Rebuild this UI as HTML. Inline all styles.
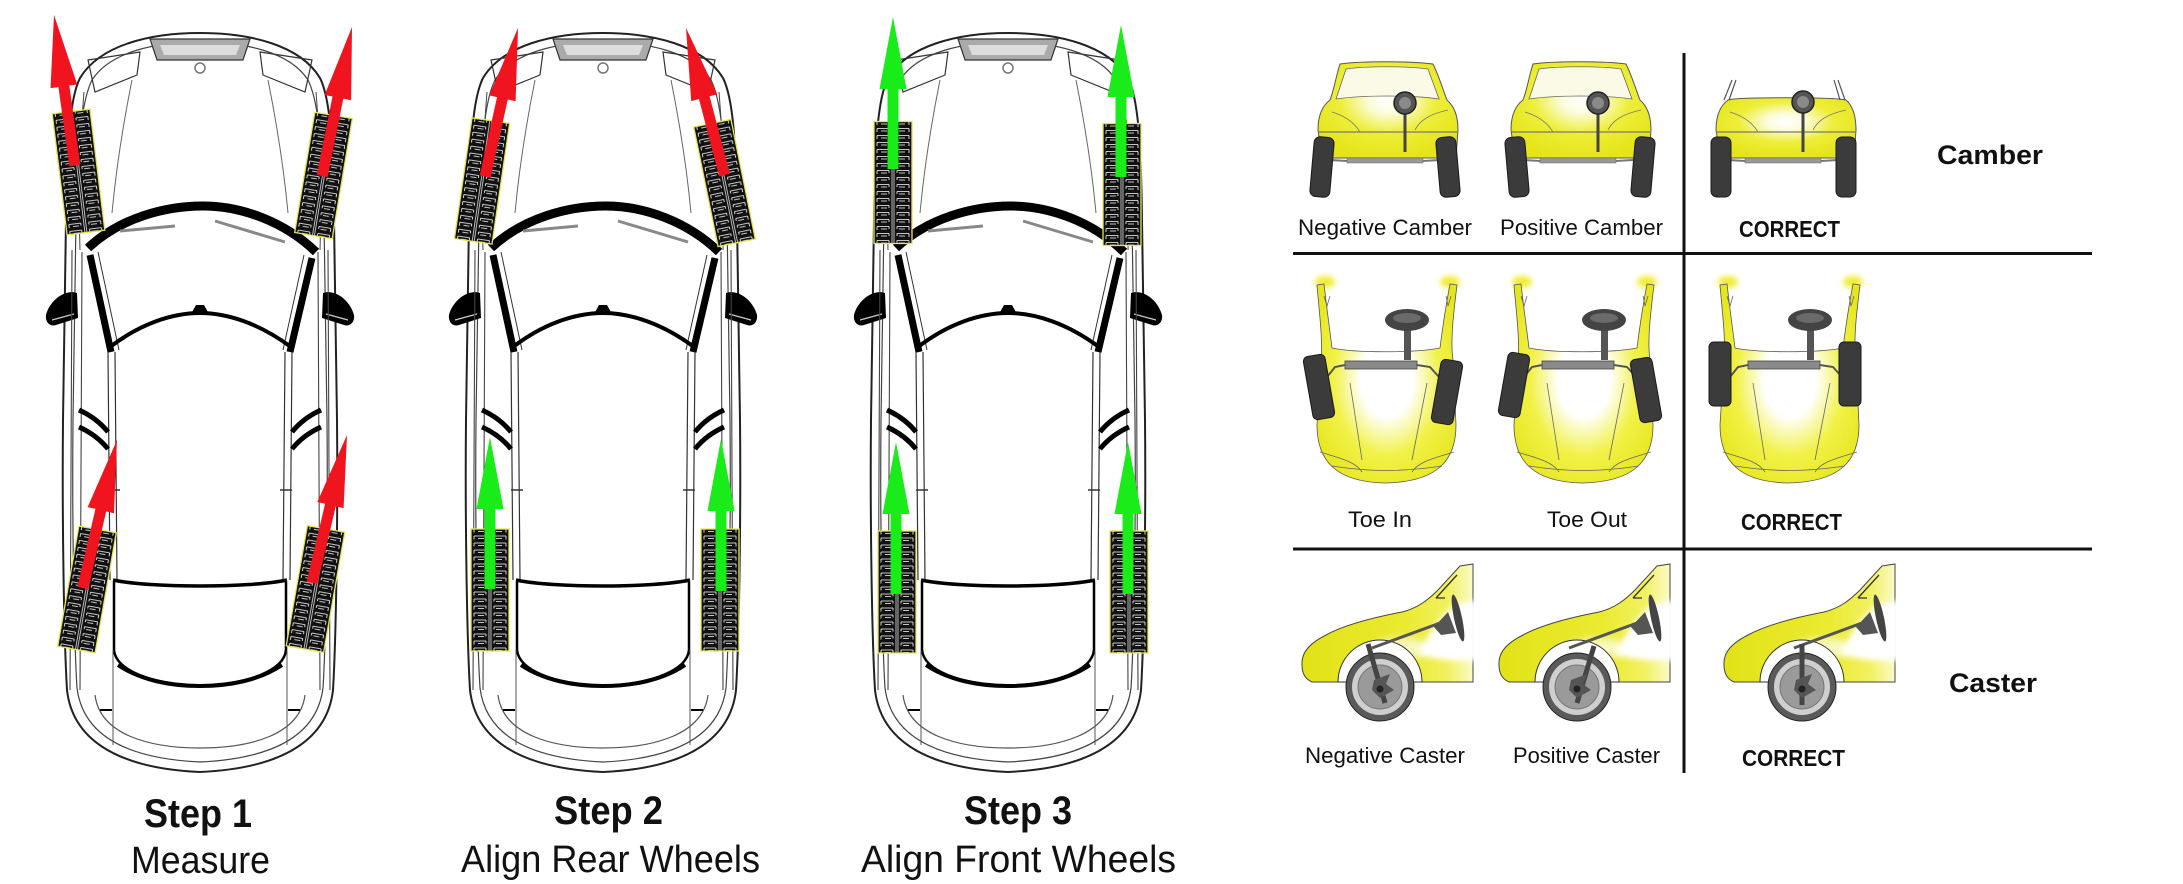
<!DOCTYPE html>
<html><head><meta charset="utf-8"><style>
html,body{margin:0;padding:0;background:#fff;}
svg{display:block;}
text{font-family:"Liberation Sans",Arial,sans-serif;fill:#111;}
</style></head><body>
<svg width="2183" height="884" viewBox="0 0 2183 884" xmlns="http://www.w3.org/2000/svg">
<defs>
<pattern id="tread" patternUnits="userSpaceOnUse" x="-19" y="0" width="38" height="7">
<rect width="38" height="7" fill="#111"/>
<path d="M18,0V7M20,0V7" stroke="#fff" stroke-width="0.7"/>
<path d="M3,2H15M3,2V5.5M15,2V4.5M7,4.5H13" stroke="#fff" stroke-width="0.8" fill="none"/>
<path d="M23,2H35M35,2V5.5M23,2V4.5M25,4.5H31" stroke="#fff" stroke-width="0.8" fill="none"/>
</pattern>
<rect id="tire" x="-19" y="-61" width="38" height="122" fill="url(#tread)" stroke="#e6e650" stroke-width="1.3"/>
<path id="arr" d="M0,0 L13.5,72 L5.5,72 L5.5,152 L-5.5,152 L-5.5,72 L-13.5,72 Z"/>
<radialGradient id="gCam" cx="0.5" cy="0.4" r="0.62">
<stop offset="0" stop-color="#fff"/><stop offset="0.22" stop-color="#fcfcdc"/>
<stop offset="0.55" stop-color="#eeee3a"/><stop offset="1" stop-color="#e4e418"/>
</radialGradient>
<radialGradient id="gToe" cx="0.5" cy="0.48" r="0.62">
<stop offset="0" stop-color="#fff"/><stop offset="0.3" stop-color="#fff"/>
<stop offset="0.62" stop-color="#f1f148"/><stop offset="1" stop-color="#e6e61c"/>
</radialGradient>
<linearGradient id="gCas" x1="0" y1="0" x2="1" y2="0">
<stop offset="0" stop-color="#e2e218"/><stop offset="0.6" stop-color="#eaea30"/>
<stop offset="0.85" stop-color="#f1f160"/><stop offset="1" stop-color="#fafac8"/>
</linearGradient>
<filter id="bl2" x="-50%" y="-50%" width="200%" height="200%"><feGaussianBlur stdDeviation="3"/></filter>
<filter id="bl4" x="-50%" y="-50%" width="200%" height="200%"><feGaussianBlur stdDeviation="4"/></filter>

<g id="car">
<path d="M200,33 C150,33 100,45 80,78 C70,98 67,140 66,220 L63,420 C62,520 64,640 67,690 C72,735 110,768 200,772 C290,768 328,735 333,690 C336,640 338,520 337,420 L334,220 C333,140 330,98 320,78 C300,45 250,33 200,33 Z" fill="#fff" stroke="#222" stroke-width="2"/>
<path d="M200,42 C155,42 110,52 92,80 C82,100 78,140 76,220 L73,420 C72,520 74,640 77,688 C82,728 115,758 200,762 C285,758 318,728 323,688 C326,640 328,520 327,420 L324,220 C322,140 318,100 308,80 C290,52 245,42 200,42 Z" fill="none" stroke="#444" stroke-width="1.2"/>
<path d="M150,39 L250,39 L243,60 L157,60 Z" fill="#aaa" stroke="#333" stroke-width="1.2"/>
<path d="M160,45 L240,45 L236,55 L164,55 Z" fill="#ddd"/>
<path d="M88,60 L140,52 L137,75 L95,92 Z M312,60 L260,52 L263,75 L305,92 Z" fill="none" stroke="#333" stroke-width="1.2"/>
<circle cx="200" cy="68" r="5" fill="none" stroke="#777" stroke-width="1.5"/>
<path d="M132,80 C124,120 116,170 112,213 M268,80 C276,120 284,170 288,213" fill="none" stroke="#666" stroke-width="1"/>
<path d="M84,92 C80,140 78,190 80,250 M316,92 C320,140 322,190 320,250" fill="none" stroke="#444" stroke-width="1"/>
<path d="M88,248 C120,218 165,206 203,206 C242,206 285,222 316,252" fill="none" stroke="#000" stroke-width="9"/>
<path d="M120,231 L175,226 M215,221 L285,242" stroke="#888" stroke-width="3"/>
<path d="M90,255 L111,352 M312,258 L290,352" stroke="#000" stroke-width="7"/>
<path d="M98,252 L119,350 M304,255 L283,350" stroke="#333" stroke-width="1"/>
<path d="M110,347 C140,324 172,313 200,313 C228,313 260,324 291,347" fill="none" stroke="#000" stroke-width="4"/>
<path d="M191,314 L196,305 L204,305 L209,314 Z" fill="#000"/>
<path d="M77,293 C65,289 50,300 46,315 C45,322 50,327 56,325 L78,318 Z" fill="#000"/>
<path d="M323,293 C335,289 350,300 354,315 C355,322 350,327 344,325 L322,318 Z" fill="#000"/>
<path d="M52,320 L74,314 M348,320 L326,314" stroke="#ccc" stroke-width="1.2"/>
<path d="M108,352 L110,580 M115,352 L117,580 M292,352 L290,580 M285,352 L283,580" stroke="#333" stroke-width="1.2"/>
<path d="M72,250 L70,690 M82,252 L80,690 M328,250 L330,690 M318,252 L320,690" stroke="#444" stroke-width="1.1"/>
<path d="M79,410 C90,415 100,422 108,432 M79,427 C90,432 100,439 108,449 M321,410 C310,415 300,422 292,432 M321,427 C310,432 300,439 292,449" fill="none" stroke="#000" stroke-width="5"/>
<path d="M108,490 L120,490 M280,490 L292,490" stroke="#333" stroke-width="1.5"/>
<path d="M113,580 C150,588 250,588 287,580" fill="none" stroke="#000" stroke-width="3.5"/>
<path d="M114,582 L114,650 C116,670 150,684 200,686 C250,684 284,670 286,650 L286,582" fill="none" stroke="#000" stroke-width="2.5"/>
<path d="M118,665 C140,680 170,686 200,686 C230,686 260,680 282,665" fill="none" stroke="#000" stroke-width="4"/>
<path d="M95,695 C100,735 150,748 200,748 C250,748 300,735 305,695" fill="none" stroke="#555" stroke-width="1.2"/>
<path d="M113,650 L113,745 M287,650 L287,745" stroke="#555" stroke-width="1"/>
<path d="M100,710 L112,710 M288,710 L300,710" stroke="#000" stroke-width="2"/>
</g>

<g id="camB">
<path d="M50,14 C70,11 122,11 143,14 C149,26 153,40 157,50 C164,56 168,66 168,80 L166,108 L32,108 L28,80 C28,66 32,56 40,50 C44,40 46,26 50,14 Z" fill="url(#gCam)" stroke="#555" stroke-width="1"/>
<path d="M56,19 C76,16 118,16 138,19 L149,49 C120,45 75,45 46,49 Z" fill="#fafae6" stroke="#666" stroke-width="0.8"/>
<path d="M29,82 L167,82" stroke="#777" stroke-width="1.2"/>
<path d="M42,62 C55,66 64,72 70,82 M158,60 C140,64 130,70 125,80" stroke="#777" stroke-width="0.8" fill="none"/>
<rect x="57" y="108" width="76" height="5" fill="#999" stroke="#666" stroke-width="0.5"/>
<path d="M40,110 L57,111 M133,111 L150,110" stroke="#777" stroke-width="2"/>
<rect x="113.5" y="60" width="3" height="42" fill="#444"/>
<circle cx="115" cy="53" r="11" fill="#555" stroke="#222" stroke-width="1.5"/>
<circle cx="115" cy="53" r="6" fill="#8a8a8a"/>
</g>
<rect id="cw" x="-10" y="-30" width="20" height="60" rx="6" fill="#3b3b3b" stroke="#1a1a1a" stroke-width="1"/>

<g id="toeB">
<ellipse cx="35" cy="22" rx="10" ry="6" fill="#eeee30" filter="url(#bl2)"/>
<ellipse cx="160" cy="22" rx="10" ry="6" fill="#eeee30" filter="url(#bl2)"/>
<path d="M27,25 C29,50 33,80 31,100 L27,165 C27,200 45,222 95,223 C148,222 166,200 166,165 L163,100 C160,80 164,50 167,25 L160,24 C155,50 152,72 150,88 C125,93 65,93 42,88 C40,72 37,50 34,24 Z" fill="url(#gToe)" stroke="#555" stroke-width="0.8"/>
<path d="M34,36 L37,46 L40,36 M156,36 L158,46 L161,36" fill="none" stroke="#666" stroke-width="0.8"/>
<path d="M60,123 L72,200 M137,123 L122,200" stroke="#666" stroke-width="0.8"/>
<path d="M30,192 C50,198 66,202 72,212 M164,192 C144,198 128,202 122,212 M42,206 C80,212 112,212 152,206" fill="none" stroke="#666" stroke-width="0.8"/>
<rect x="114" y="66" width="7" height="34" fill="#555"/>
<ellipse cx="117" cy="60" rx="22" ry="11" fill="#444"/>
<ellipse cx="117" cy="58" rx="14" ry="5" fill="#6a6a6a"/>
<rect x="55" y="101" width="72" height="8" fill="#8a8a8a" stroke="#444" stroke-width="0.8"/>
<path d="M55,105 L45,107 L37,117 M127,105 L140,107 L149,117" fill="none" stroke="#555" stroke-width="2"/>
</g>
<rect id="tw" x="-11" y="-32" width="22" height="64" rx="5" fill="#3b3b3b" stroke="#1a1a1a" stroke-width="1"/>

<g id="casB">
<path d="M12,115 C11,101 22,92 36,85 C56,74 86,67 112,62 C128,58 138,50 148,40 L170,16 L183,14 L183,132 L22,132 C15,129 12,123 12,115 Z" fill="url(#gCas)" stroke="#444" stroke-width="1"/>
<ellipse cx="112" cy="98" rx="28" ry="10" fill="#fff" opacity="0.7" filter="url(#bl4)"/>
<path d="M128,104 C138,86 150,64 168,54 L188,50 L188,110 C170,112 145,110 128,104 Z" fill="#fff" filter="url(#bl2)"/>
<path d="M146,48 L167,25 M146,48 L155,48" stroke="#333" stroke-width="1.3"/>
<path d="M48,132 A42,42 0 0 1 132,132 Z" fill="#fff" stroke="#333" stroke-width="1"/>
<path d="M82,98 L150,73" stroke="#555" stroke-width="3"/>
<path d="M144,77 L158,62 L166,83 L151,85 Z" fill="#555"/>
<ellipse cx="168" cy="68" rx="4" ry="24" transform="rotate(-12 168 68)" fill="#444"/>
<circle cx="90" cy="137" r="34" fill="#5a5a5a" stroke="#222" stroke-width="1"/>
<circle cx="90" cy="137" r="28" fill="#cfcfcf"/>
<circle cx="90" cy="137" r="22" fill="#9a9a9a" stroke="#777" stroke-width="1"/>
</g>
</defs>

<use href="#car"/>
<use href="#car" transform="translate(403,0)"/>
<use href="#car" transform="translate(808,0)"/>

<use href="#tire" transform="translate(78.5,172) rotate(-7)"/>
<use href="#tire" transform="translate(323.5,175.5) rotate(9.5)"/>
<use href="#tire" transform="translate(87,589.5) rotate(10)"/>
<use href="#tire" transform="translate(315.5,589) rotate(10)"/>
<use href="#tire" transform="translate(482,181) rotate(8.3)"/>
<use href="#tire" transform="translate(724.5,183) rotate(-11.5)"/>
<use href="#tire" transform="translate(490,590)"/>
<use href="#tire" transform="translate(720,590)"/>
<use href="#tire" transform="translate(893,182.5)"/>
<use href="#tire" transform="translate(1122,184.5)"/>
<use href="#tire" transform="translate(897,592)"/>
<use href="#tire" transform="translate(1129,592)"/>

<g fill="#f0141e">
<use href="#arr" transform="translate(54,15) rotate(-7.9)"/>
<use href="#arr" transform="translate(352,27) rotate(11.3)"/>
<use href="#arr" transform="translate(117,440) rotate(13)"/>
<use href="#arr" transform="translate(347,435) rotate(13.3)"/>
<use href="#arr" transform="translate(518,28) rotate(12.5)"/>
<use href="#arr" transform="translate(686,28) rotate(-14.7)"/>
</g>
<g fill="#19ec19">
<use href="#arr" transform="translate(490,437)"/>
<use href="#arr" transform="translate(721,439)"/>
<use href="#arr" transform="translate(893,17)"/>
<use href="#arr" transform="translate(1121,25)"/>
<use href="#arr" transform="translate(896,442)"/>
<use href="#arr" transform="translate(1128,442)"/>
</g>

<text x="144" y="827" font-size="40" font-weight="bold" textLength="108" lengthAdjust="spacingAndGlyphs">Step 1</text>
<text x="131" y="873" font-size="38" textLength="139" lengthAdjust="spacingAndGlyphs">Measure</text>
<text x="554" y="824" font-size="40" font-weight="bold" textLength="109" lengthAdjust="spacingAndGlyphs">Step 2</text>
<text x="461" y="872" font-size="38" textLength="299" lengthAdjust="spacingAndGlyphs">Align Rear Wheels</text>
<text x="964" y="824" font-size="40" font-weight="bold" textLength="108" lengthAdjust="spacingAndGlyphs">Step 3</text>
<text x="861" y="872" font-size="38" textLength="315" lengthAdjust="spacingAndGlyphs">Align Front Wheels</text>

<path d="M1684,53 L1684,773" stroke="#111" stroke-width="3"/>
<path d="M1293,253.5 L2092,253.5 M1293,549 L2092,549" stroke="#111" stroke-width="3"/>

<g transform="translate(1290,50)">
<use href="#camB"/>
<use href="#cw" transform="translate(32,117) rotate(5)"/>
<use href="#cw" transform="translate(158,117) rotate(-5)"/>
</g>
<g transform="translate(1483,50)">
<use href="#camB"/>
<use href="#cw" transform="translate(34,117) rotate(-5)"/>
<use href="#cw" transform="translate(160,117) rotate(5)"/>
</g>
<g transform="translate(1688,50)">
<path d="M40,50 C50,47 145,47 158,50 C165,56 168,66 168,80 L166,108 L32,108 L28,80 C28,66 32,56 40,50 Z" fill="url(#gCam)" stroke="#555" stroke-width="1"/>
<path d="M44,30 L36,50 M48,30 L41,50 M150,30 L157,50 M146,30 L152,50" stroke="#555" stroke-width="1.2"/>
<path d="M29,82 L167,82" stroke="#777" stroke-width="1.2"/>
<path d="M42,62 C55,66 64,72 70,82 M158,60 C140,64 130,70 125,80" stroke="#777" stroke-width="0.8" fill="none"/>
<rect x="57" y="108" width="76" height="5" fill="#999" stroke="#666" stroke-width="0.5"/>
<path d="M40,110 L57,111 M133,111 L150,110" stroke="#777" stroke-width="2"/>
<rect x="113.5" y="60" width="3" height="42" fill="#444"/>
<circle cx="115" cy="52" r="11" fill="#555" stroke="#222" stroke-width="1.5"/>
<circle cx="115" cy="52" r="6" fill="#8a8a8a"/>
<use href="#cw" transform="translate(33,117)"/>
<use href="#cw" transform="translate(158,117)"/>
</g>

<text x="1298" y="235" font-size="22" textLength="174" lengthAdjust="spacingAndGlyphs">Negative Camber</text>
<text x="1500" y="235" font-size="22" textLength="163" lengthAdjust="spacingAndGlyphs">Positive Camber</text>
<text x="1739" y="237" font-size="23" font-weight="bold" textLength="101" lengthAdjust="spacingAndGlyphs">CORRECT</text>
<text x="1937" y="164" font-size="27" font-weight="bold" textLength="106" lengthAdjust="spacingAndGlyphs">Camber</text>

<g transform="translate(1290,260)">
<use href="#toeB"/>
<use href="#tw" transform="translate(29,127) rotate(-10)"/>
<use href="#tw" transform="translate(157,132) rotate(10)"/>
</g>
<g transform="translate(1487,260)">
<use href="#toeB"/>
<use href="#tw" transform="translate(27,125) rotate(10)"/>
<use href="#tw" transform="translate(159,130) rotate(-10)"/>
</g>
<g transform="translate(1693,260)">
<use href="#toeB"/>
<use href="#tw" transform="translate(27,114)"/>
<use href="#tw" transform="translate(157,114)"/>
</g>

<text x="1348" y="527" font-size="22" textLength="64" lengthAdjust="spacingAndGlyphs">Toe In</text>
<text x="1547" y="527" font-size="22" textLength="80" lengthAdjust="spacingAndGlyphs">Toe Out</text>
<text x="1741" y="530" font-size="23" font-weight="bold" textLength="101" lengthAdjust="spacingAndGlyphs">CORRECT</text>

<g transform="translate(1290,550)">
<use href="#casB"/>
<path d="M78,94 L95,153" stroke="#444" stroke-width="5"/>
<path d="M84,130 L100,124 L96,134 L104,140 L90,148 L82,140 Z" fill="#555"/>
<circle cx="90" cy="139" r="3.5" fill="#222"/>
</g>
<g transform="translate(1487,550)">
<use href="#casB"/>
<path d="M107,96 L90,153" stroke="#444" stroke-width="5"/>
<path d="M84,130 L100,124 L96,134 L104,140 L90,148 L82,140 Z" fill="#555"/>
<circle cx="90" cy="139" r="3.5" fill="#222"/>
</g>
<g transform="translate(1712,550)">
<use href="#casB"/>
<path d="M90,94 L90,155" stroke="#444" stroke-width="5"/>
<path d="M84,130 L100,124 L96,134 L104,140 L90,148 L82,140 Z" fill="#555"/>
<circle cx="90" cy="139" r="3.5" fill="#222"/>
</g>

<text x="1305" y="763" font-size="22" textLength="160" lengthAdjust="spacingAndGlyphs">Negative Caster</text>
<text x="1513" y="763" font-size="22" textLength="147" lengthAdjust="spacingAndGlyphs">Positive Caster</text>
<text x="1742" y="766" font-size="23" font-weight="bold" textLength="103" lengthAdjust="spacingAndGlyphs">CORRECT</text>
<text x="1949" y="692" font-size="27" font-weight="bold" textLength="88" lengthAdjust="spacingAndGlyphs">Caster</text>
</svg>
</body></html>
